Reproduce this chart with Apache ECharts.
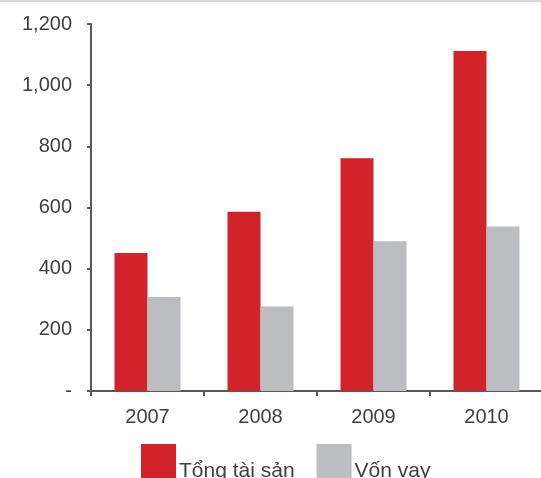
<!DOCTYPE html>
<html>
<head>
<meta charset="utf-8">
<title>Tổng tài sản / Vốn vay</title>
<script src="https://cdn.jsdelivr.net/npm/echarts@6/dist/echarts.min.js"></script>
<style>
  html, body { margin: 0; padding: 0; background: #fff; }
  #chart { width: 541px; height: 478px; }
</style>
</head>
<body>
<div id="chart"></div>
<script>
// data
const years = ['2007', '2008', '2009', '2010']
const tongTaiSan = [451, 586, 761, 1112]
const vonVay = [307, 276, 490, 538]
const yTicks = [0, 200, 400, 600, 800, 1000, 1200]

const textColor = '#404040'
const axisColor = '#595959'

const chart = echarts.init(document.getElementById('chart'))

const option = {
  animation: false,
  textStyle: { fontFamily: 'Liberation Sans, Arial, sans-serif' },
  graphic: [
    {
      type: 'rect',
      left: 0,
      top: 0,
      shape: { width: 541, height: 2 },
      style: { fill: '#d9d9d9' }
    }
  ],
  legend: {
    data: ['Tổng tài sản', 'Vốn vay'],
    left: 141,
    top: 444,
    padding: 0,
    itemWidth: 35,
    itemHeight: 48,
    itemGap: 22,
    icon: 'rect',
    formatter: name => '{t|' + name + '}',
    textStyle: {
      color: textColor,
      fontSize: 21,
      rich: {
        t: { color: textColor, fontSize: 21, padding: [6, 0, 0, -2] }
      }
    }
  },
  grid: {
    left: 91,
    width: 452,
    top: 24,
    bottom: 87,
    outerBoundsMode: 'none'
  },
  xAxis: {
    type: 'category',
    data: years,
    axisLine: { lineStyle: { color: axisColor, width: 2 } },
    axisTick: { show: true, length: 5, lineStyle: { color: axisColor, width: 2 } },
    axisLabel: { color: textColor, fontSize: 20, margin: 16 }
  },
  yAxis: {
    type: 'value',
    min: yTicks[0],
    max: yTicks[yTicks.length - 1],
    interval: yTicks[1] - yTicks[0],
    splitLine: { show: false },
    axisLine: { show: true, lineStyle: { color: axisColor, width: 2 } },
    axisTick: { show: true, length: 4, lineStyle: { color: axisColor, width: 2 } },
    axisLabel: {
      color: textColor,
      fontSize: 20,
      margin: 19,
      formatter: v => v === 0 ? '-' : v.toLocaleString('en-US')
    }
  },
  series: [
    {
      name: 'Tổng tài sản',
      type: 'bar',
      data: tongTaiSan,
      barWidth: 33,
      barGap: '0%',
      itemStyle: { color: '#d2232a' }
    },
    {
      name: 'Vốn vay',
      type: 'bar',
      data: vonVay,
      barWidth: 33,
      itemStyle: { color: '#bcbdc0' }
    }
  ]
}

chart.setOption(option)
</script>
</body>
</html>
